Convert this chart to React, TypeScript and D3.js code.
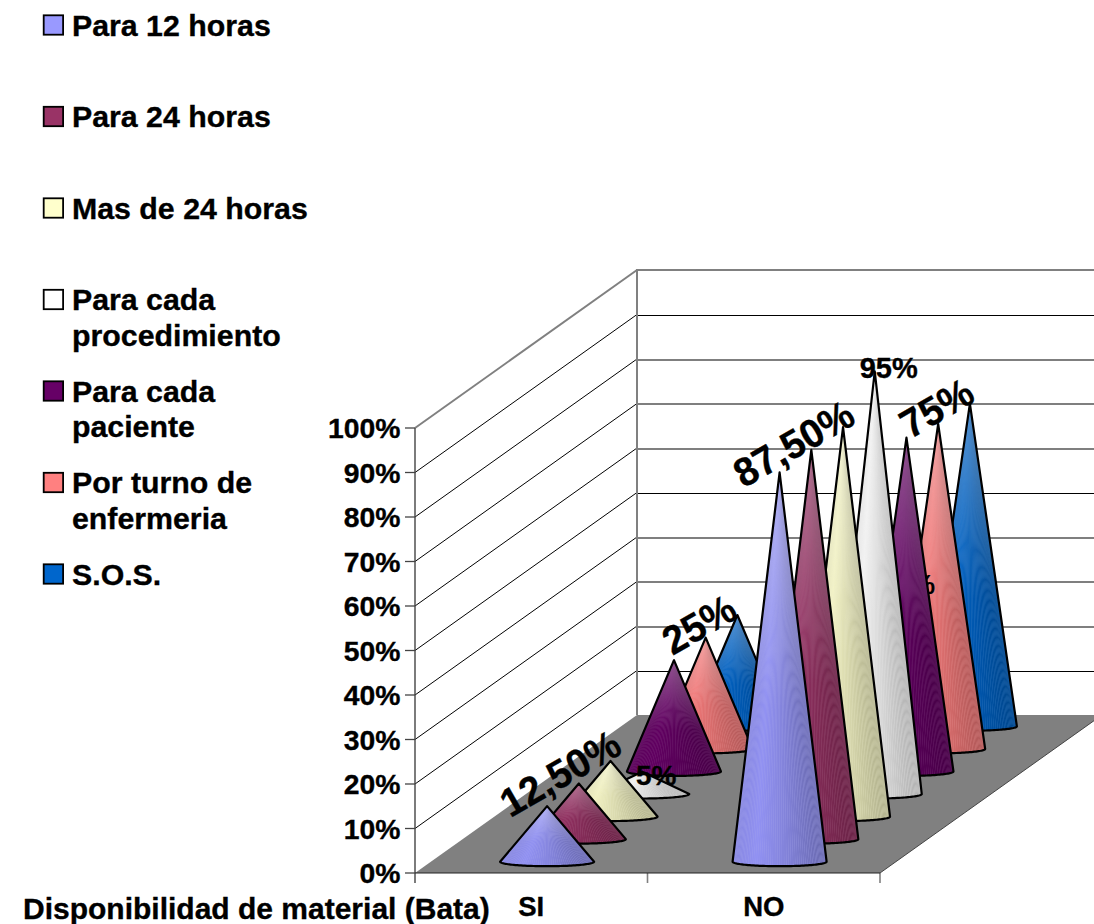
import React from "react";
import * as d3 from "d3";

const seriesNames = ["Para 12 horas", "Para 24 horas", "Mas de 24 horas", "Para cada procedimiento", "Para cada paciente", "Por turno de enfermeria", "S.O.S."];
const seriesColors = ["#9999ff", "#993366", "#ffffcc", "#ffffff", "#660066", "#ff8080", "#0066cc"];
const categories = ["SI", "NO"];
const siValues = [12.5, 12.5, 12.5, 5, 25, 25, 25];
const noValues = [87.5, 87.5, 87.5, 95, 75, 73, 72.5];
const valueTicks = [0, 10, 20, 30, 40, 50, 60, 70, 80, 90, 100];
const legendLines = [["Para 12 horas"], ["Para 24 horas"], ["Mas de 24 horas"], ["Para cada", "procedimiento"], ["Para cada", "paciente"], ["Por turno de", "enfermeria"], ["S.O.S."]];
const axisTitle = "Disponibilidad de material (Bata)";

const FONT = "'Liberation Sans', Arial, sans-serif";
const W = 1094, H = 924;
const x0 = 415, y0 = 873, frontW = 465, depthX = 222, depthY = 158;

const yScale = d3.scaleLinear().domain([0, 100]).range([0, -445]);
const catScale = d3.scaleBand<string>().domain(categories).range([x0, x0 + frontW]);
const depthScale = d3.scaleBand<string>().domain(seriesNames).range([0, 1]);
const legendY = d3.scaleLinear().domain([0, 6]).range([25, 574]);
const shadeScale = d3.scaleLinear().domain([0, 0.25, 0.55, 1]).range([0.88, 0.95, 0.86, 0.68]);

const depthPoint = (name: string) => {
  const d = (depthScale(name) ?? 0) + depthScale.bandwidth() / 2;
  return { dx: d * depthX, dy: -d * depthY };
};

const RADIUS = 47, RY = 4.5;

function shadeAt(color: string, t: number) {
  const s = shadeScale(t);
  const c = d3.rgb(color);
  return d3.rgb(c.r * s, c.g * s, c.b * s).formatRgb();
}

function Cone({ cx, by, tipY, color }: { cx: number; by: number; tipY: number; color: string }) {
  const N = 64;
  const ang = d3.range(N + 1).map((k) => Math.PI - (k / N) * Math.PI);
  const pts = ang.map((a) => [cx + RADIUS * Math.cos(a), by + RY * Math.sin(a)]);
  const outline = d3.line()([[cx, tipY], ...pts] as [number, number][]) + "Z";
  return (
    <g>
      <path d={outline} fill={d3.interpolateRgb(color, "#c8c8c8")(0.35)} />
      {pts.slice(0, -1).map((p, i) => {
        const q = pts[i + 1];
        const t = ((p[0] + q[0]) / 2 - (cx - RADIUS)) / (2 * RADIUS);
        return <path key={i} d={`M${cx},${tipY}L${p[0]},${p[1]}L${q[0]},${q[1]}Z`} fill={shadeAt(color, t)} />;
      })}
      <path d={outline} fill="url(#tipLight)" />
      <path d={outline} fill="none" stroke="#000" strokeWidth={2.2} strokeLinejoin="round" />
    </g>
  );
}

const labels = [
  { cat: "SI", s: 0, text: "12,50%", rot: -30, dx: 13, dy: -33, size: 40, sx: 0.97 },
  { cat: "SI", s: 3, text: "5%", rot: 0, dx: 14, dy: 4, size: 28, sx: 1 },
  { cat: "SI", s: 4, text: "25%", rot: -30, dx: 25, dy: -36, size: 40, sx: 0.97 },
  { cat: "NO", s: 0, text: "87,50%", rot: -30, dx: 14, dy: -29, size: 40, sx: 0.97 },
  { cat: "NO", s: 3, text: "95%", rot: 0, dx: 14, dy: -3, size: 29, sx: 1 },
  { cat: "NO", s: 4, text: "75%", rot: -30, dx: 30, dy: -30, size: 40, sx: 0.97 },
];

export default function App() {
  const tops = valueTicks.map((v) => y0 + yScale(v));
  const coneOf = (cat: string, s: number) => {
    const vals = cat === "SI" ? siValues : noValues;
    const p = depthPoint(seriesNames[s]);
    const cx = (catScale(cat) ?? 0) + catScale.bandwidth() / 2 + p.dx;
    const by = y0 + p.dy;
    return { cx, by, tipY: by + yScale(vals[s]) };
  };
  const order = d3.range(seriesNames.length).reverse();
  return (
    <svg width={W} height={H} viewBox={`0 0 ${W} ${H}`} style={{ position: "absolute", left: 0, top: 0, background: "#fff" }} fontFamily={FONT} fontWeight="bold">
      <defs>
        <linearGradient id="tipLight" x1="0" y1="0" x2="0" y2="1">
          <stop offset="0" stopColor="#fff" stopOpacity={0.25} />
          <stop offset="0.6" stopColor="#fff" stopOpacity={0} />
        </linearGradient>
      </defs>
      {/* floor */}
      <path d={`M${x0},${y0}L${x0 + frontW},${y0}L${x0 + frontW + depthX},${y0 - depthY}L${x0 + depthX},${y0 - depthY}Z`} fill="#808080" />
      {/* walls grid */}
      {tops.map((ty, i) => {
        const back = ty - depthY;
        const crisp = i % 4 === 1;
        const by = Math.round(back + 0.5) + (crisp ? 0.5 : 0);
        return (
          <g key={i}>
            {i > 0 && i < 10 && <line x1={x0} y1={ty} x2={x0 + depthX} y2={back} stroke="#000" strokeWidth={1} />}
            {i > 0 && i < 10 && <line x1={x0 + depthX} y1={by} x2={W} y2={by} stroke="#000" strokeWidth={crisp ? 1 : 1.1} />}
          </g>
        );
      })}
      <line x1={x0} y1={tops[10]} x2={x0 + depthX} y2={tops[10] - depthY} stroke="#808080" strokeWidth={2} />
      <line x1={x0 + depthX} y1={tops[10] - depthY} x2={W} y2={tops[10] - depthY} stroke="#808080" strokeWidth={2} />
      <line x1={x0 + depthX} y1={tops[10] - depthY - 1} x2={x0 + depthX} y2={y0 - depthY} stroke="#808080" strokeWidth={2} />
      <line x1={x0} y1={tops[10]} x2={x0} y2={y0 + 10} stroke="#444" strokeWidth={1.4} />
      {tops.map((ty, i) => (
        <line key={i} x1={x0 - 10} y1={ty} x2={x0} y2={ty} stroke="#444" strokeWidth={1.3} />
      ))}
      {[1, 2].map((i) => {
        const x = (catScale(categories[i - 1]) ?? 0) + catScale.bandwidth();
        return <line key={i} x1={x} y1={y0} x2={x} y2={y0 + 10} stroke="#808080" strokeWidth={1.6} />;
      })}
      <line x1={x0} y1={y0} x2={x0 + frontW} y2={y0} stroke="#222" strokeWidth={1.2} />
      <line x1={x0 + frontW} y1={y0} x2={x0 + frontW + depthX} y2={y0 - depthY} stroke="#444" strokeWidth={1} />

      {/* cones */}
      {order.map((s) => (
        <g key={s}>
          {categories.map((cat) => {
            const c = coneOf(cat, s);
            return <Cone key={cat} cx={c.cx} by={c.by} tipY={c.tipY} color={seriesColors[s]} />;
          })}
          {s === 5 && (
            <text x={coneOf("NO", 5).cx - 3} y={coneOf("NO", 5).tipY + 170} textAnchor="end" fontSize={28} fill="#000">75%</text>
          )}
        </g>
      ))}

      <g stroke="#000" strokeWidth={0.35}>
        {/* data labels */}
        {labels.map((l, i) => {
          const c = coneOf(l.cat, l.s);
          return (
            <text key={i} transform={`translate(${c.cx + l.dx},${c.tipY + l.dy}) rotate(${l.rot}) scale(${l.sx},1)`} textAnchor="middle" dominantBaseline="central" fontSize={l.size} fill="#000">{l.text}</text>
          );
        })}

        {/* value axis labels */}
        {valueTicks.map((v, i) => (
          <text key={v} x={400.5} y={tops[i] + 10} textAnchor="end" fontSize={28.3} fill="#000">{v}%</text>
        ))}

        {/* category labels */}
        {categories.map((cat) => (
          <text key={cat} x={(catScale(cat) ?? 0) + catScale.bandwidth() / 2} y={916} textAnchor="middle" fontSize={27.5} fill="#000">{cat}</text>
        ))}
        <text x={23} y={919} fontSize={30} fill="#000">{axisTitle}</text>

        {/* legend text */}
        {legendLines.map((ls, i) =>
          ls.map((t, j) => (
            <text key={`${i}-${j}`} x={72} y={legendY(i) + 10.5 + j * 35.7} fontSize={30.3} fill="#000">{t}</text>
          ))
        )}
      </g>

      {/* legend swatches */}
      {seriesColors.map((col, i) => (
        <rect key={i} x={43.7} y={legendY(i) - 9.7} width={19.4} height={19.4} fill={col} stroke="#000" strokeWidth={1.8} />
      ))}
    </svg>
  );
}
